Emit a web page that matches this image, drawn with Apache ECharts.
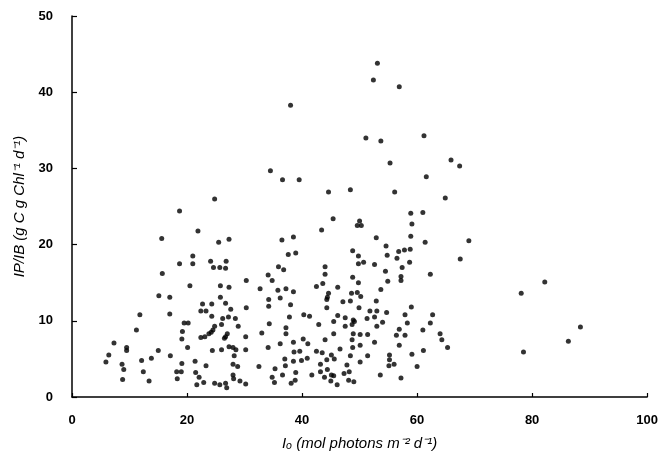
<!DOCTYPE html>
<html>
<head>
<meta charset="utf-8">
<script src="https://cdn.jsdelivr.net/npm/echarts@6/dist/echarts.min.js"></script>
<style>
  html, body { margin: 0; padding: 0; background: #fff; }
  #chart { width: 661px; height: 465px; }
</style>
</head>
<body>
<div id="chart"></div>
<script>
// Io (mol photons m-2 d-1) and IP/IB (g C g Chl-1 d-1)
var ioValues = [
  15.6, 18.7, 15.7, 20.5, 15.1, 17.0, 11.8, 17.0, 19.5, 20.2, 11.2, 19.2, 19.1, 7.3, 9.5, 9.5,
  20.1, 6.4, 5.9, 15.0, 13.8, 12.1, 17.1, 8.7, 9.0, 19.1, 12.4, 18.2, 19.0, 8.8, 13.4, 18.3,
  21.9, 25.5, 27.3, 21.0, 21.0, 24.1, 24.6, 25.7, 26.7, 26.8, 25.8, 27.3, 30.3, 32.7, 25.8, 22.7,
  24.3, 26.7, 22.4, 23.3, 30.3, 27.6, 24.3, 26.2, 27.2, 28.4, 26.0, 28.9, 24.8, 24.5, 24.2, 27.0,
  26.7, 26.5, 23.8, 23.1, 22.4, 30.2, 33.0, 27.3, 28.0, 28.5, 24.4, 26.0, 30.2, 28.2, 21.4, 23.3,
  28.0, 28.8, 32.5, 21.5, 22.1, 28.0, 28.1, 29.2, 30.2, 22.9, 21.7, 24.8, 25.7, 26.7, 26.9,
  43.4, 36.5, 38.5, 37.6, 38.9, 35.9, 36.8, 34.1, 34.8, 44.0, 44.0, 43.6, 42.5, 46.2, 35.8, 37.2,
  38.5, 34.2, 34.2, 36.2, 44.6, 44.4, 44.3, 38.0, 44.3, 40.3, 41.3, 37.8, 46.2, 45.5, 34.3, 42.9,
  37.2, 37.2, 45.5, 40.2, 41.0, 44.0, 38.5, 36.2, 34.1, 46.6, 38.6, 39.6, 42.5, 43.5, 37.0, 40.9,
  39.9, 38.5, 44.3, 45.1, 37.1, 43.2, 45.6, 35.3, 44.4, 43.2, 38.9, 36.6, 41.7, 45.1, 45.5, 34.8,
  35.2, 43.9, 38.8, 38.1, 45.0, 46.1,
  50.0, 49.6, 50.3, 59.1, 58.9, 52.9, 54.6, 56.8, 57.8, 58.8, 48.8, 54.8, 56.5, 49.8, 49.8, 50.7,
  58.7, 52.6, 57.4, 54.5, 57.2, 57.2, 54.9, 48.8, 49.8, 53.7, 48.6, 49.6, 50.2, 47.1, 48.4, 52.9,
  49.9, 59.0, 51.8, 53.0, 54.7, 47.5, 47.5, 48.9, 48.7, 49.1, 51.3, 52.6, 54.0, 53.0, 57.9, 58.3,
  56.9, 56.4, 57.9, 48.9, 50.1, 51.4, 48.7, 52.6, 50.1, 48.8, 56.9, 48.4, 51.4, 59.1, 55.2, 55.2,
  55.1, 56.0, 50.1, 47.8, 47.3, 48.2, 53.6, 57.2, 48.1, 49.0,
  61.4, 69.0, 67.5, 62.3, 62.7, 62.3, 61.0, 64.0, 64.3, 65.3, 61.1, 60.0,
  82.2, 78.1, 88.4, 86.3, 78.5,
  34.5, 36.6, 39.5, 24.8, 18.7,
  55.3, 65.9, 67.4, 61.6, 44.6, 48.4, 56.1, 64.9, 58.9, 61.0, 45.4,
  51.1, 53.7, 61.2, 53.1, 52.4, 56.9, 38.0
];
var ipValues = [
  20.8, 17.5, 16.2, 14.6, 13.3, 13.1, 10.8, 10.9, 9.7, 9.7, 8.8, 8.6, 7.6, 7.1, 6.5, 6.1,
  6.5, 5.5, 4.6, 6.1, 5.1, 4.8, 5.4, 4.3, 3.6, 4.4, 3.3, 3.3, 3.3, 2.3, 2.1, 2.4,
  21.8, 20.3, 20.7, 18.5, 17.5, 17.8, 17.0, 17.0, 16.9, 17.8, 14.6, 14.4, 15.3, 14.2, 13.1, 12.2,
  12.2, 12.3, 11.3, 11.3, 11.7, 11.5, 10.6, 10.3, 10.5, 10.3, 9.5, 9.3, 9.3, 8.8, 8.5, 8.3,
  7.9, 7.7, 8.3, 7.9, 7.8, 7.9, 8.4, 6.6, 6.5, 6.2, 6.1, 6.2, 6.2, 5.4, 4.7, 4.1,
  4.3, 4.0, 4.0, 3.2, 2.6, 2.9, 2.4, 2.1, 1.7, 1.9, 1.6, 1.8, 1.6, 1.8, 1.2,
  21.9, 20.6, 21.0, 18.7, 18.9, 17.1, 16.7, 16.0, 15.3, 17.1, 16.1, 14.9, 14.5, 14.4, 14.0, 14.2,
  13.8, 12.8, 11.9, 13.0, 13.6, 13.1, 12.8, 12.1, 11.7, 10.8, 10.6, 10.5, 10.7, 9.9, 9.6, 9.5,
  9.1, 8.3, 8.3, 7.6, 7.0, 7.5, 7.2, 7.0, 6.5, 6.3, 5.9, 6.0, 6.0, 5.8, 5.0, 5.1,
  4.8, 4.7, 4.9, 5.5, 4.1, 4.3, 5.0, 3.7, 3.6, 3.3, 3.2, 2.9, 2.9, 2.9, 2.8, 2.6,
  1.9, 2.6, 2.2, 1.8, 2.1, 1.6,
  23.1, 22.5, 22.5, 22.7, 21.1, 20.9, 19.8, 19.1, 19.3, 19.4, 19.2, 18.6, 18.2, 18.5, 17.5, 17.7,
  17.7, 17.4, 17.0, 16.5, 15.8, 15.3, 15.2, 15.7, 15.0, 14.1, 13.6, 13.7, 13.2, 12.5, 12.6, 12.6,
  11.7, 11.8, 11.3, 11.3, 11.1, 10.4, 9.3, 10.1, 9.5, 9.9, 10.3, 10.5, 9.8, 9.3, 10.8, 9.7,
  8.9, 8.1, 8.1, 8.3, 8.2, 8.2, 7.5, 7.2, 6.8, 6.5, 6.8, 5.4, 5.4, 5.6, 5.5, 4.9,
  4.1, 4.3, 4.6, 4.2, 3.1, 3.3, 2.9, 2.5, 2.2, 2.0,
  20.3, 20.5, 18.1, 16.1, 10.8, 9.7, 8.8, 8.3, 7.5, 6.5, 6.1, 4.0,
  15.1, 13.6, 9.2, 7.3, 5.9,
  29.7, 28.5, 28.5, 26.0, 24.4,
  30.7, 31.1, 30.3, 28.9, 26.9, 27.2, 26.9, 26.1, 24.1, 24.2, 23.4,
  34.0, 33.6, 34.3, 43.8, 41.6, 40.7, 38.3
];
var xTicks = [0, 20, 40, 60, 80, 100];
var yTicks = [0, 10, 20, 30, 40, 50];

var points = ioValues.map(function (x, i) {
  return [x, ipValues[i]];
});

var labelFont = "'Liberation Sans', Arial, sans-serif";

var option = {
  animation: false,
  backgroundColor: "#fff",
  grid: {
    left: 72,
    right: 13,
    top: 16,
    bottom: 68,
  },
  xAxis: {
    type: "value",
    min: xTicks[0],
    max: xTicks[xTicks.length - 1],
    interval: 20,
    name: "I\u2092 (mol photons m\u207B\u00B2 d\u207B\u00B9)",
    nameLocation: "middle",
    nameGap: 39,
    nameTextStyle: {
      color: "#000",
      fontFamily: labelFont,
      fontStyle: "italic",
      fontSize: 15,
    },
    axisLine: { show: true, onZero: false, lineStyle: { color: "#000", width: 1.5 } },
    axisTick: { show: true, inside: true, length: 4, lineStyle: { color: "#000", width: 1.2 } },
    axisLabel: {
      color: "#000",
      fontFamily: labelFont,
      fontWeight: "bold",
      fontSize: 13,
      margin: 17,
    },
    splitLine: { show: false },
  },
  yAxis: {
    type: "value",
    min: yTicks[0],
    max: yTicks[yTicks.length - 1],
    interval: 10,
    name: "IP/IB (g C g Chl\u207B\u00B9 d\u207B\u00B9)",
    nameLocation: "middle",
    nameGap: 42,
    nameRotate: 90,
    nameTextStyle: {
      color: "#000",
      fontFamily: labelFont,
      fontStyle: "italic",
      fontSize: 15,
    },
    axisLine: { show: true, lineStyle: { color: "#000", width: 1.5 } },
    axisTick: { show: true, inside: true, length: 5, lineStyle: { color: "#000", width: 1.2 } },
    axisLabel: {
      color: "#000",
      fontFamily: labelFont,
      fontWeight: "bold",
      fontSize: 13,
      margin: 19,
    },
    splitLine: { show: false },
  },
  series: [
    {
      type: "scatter",
      symbol: "circle",
      symbolSize: 5,
      itemStyle: { color: "#000" },
      data: points,
    },
  ],
};

var chart = echarts.init(document.getElementById("chart"), null, { renderer: "canvas" });
chart.setOption(option);
</script>
</body>
</html>
